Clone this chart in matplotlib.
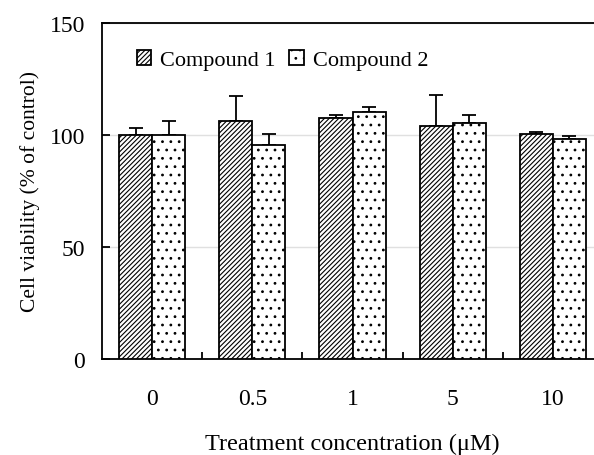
import numpy as np
import matplotlib
matplotlib.use("Agg")
import matplotlib.pyplot as plt

plt.rcParams['font.family'] = ['Liberation Serif', 'DejaVu Serif']
plt.rcParams['hatch.linewidth'] = 0.8

concentracoes = ["0", "0.5", "1", "5", "10"]
composto1 = [100.0, 106.4, 107.4, 103.9, 100.4]
erro1 = [3.1, 11.0, 1.5, 14.1, 0.8]
composto2 = [100.0, 95.7, 110.4, 105.5, 98.1]
erro2 = [6.4, 4.7, 2.0, 3.4, 1.6]

fig = plt.figure(figsize=(5.94, 4.56), dpi=100)
ax = fig.add_axes([102/594, 1 - 360/456, 501/594, 336/456])

x = np.arange(len(concentracoes))
w = 0.33

ax.bar(x - w/2, composto1, w, color="white", edgecolor="black", linewidth=1.3,
       hatch="///////", label="Compound 1", zorder=3)
ax.bar(x + w/2, composto2, w, color="white", edgecolor="black", linewidth=1.3,
       hatch="..", label="Compound 2", zorder=3)

ax.errorbar(x - w/2, composto1, yerr=[np.zeros(5), erro1], fmt="none",
            ecolor="black", elinewidth=1.3, capsize=5, capthick=1.3, zorder=2)
ax.errorbar(x + w/2, composto2, yerr=[np.zeros(5), erro2], fmt="none",
            ecolor="black", elinewidth=1.3, capsize=5, capthick=1.3, zorder=2)

ax.set_xlim(-0.5, 4.5)
ax.set_ylim(0, 150)
ax.set_yticks([0, 50, 100, 150])
ax.set_xticks(x)
ax.set_xticklabels(concentracoes)
ax.set_xticks(np.arange(0.5, 4.5, 1), minor=True)
ax.tick_params(axis="x", which="major", length=0, pad=21, labelsize=17)
ax.tick_params(axis="x", which="minor", direction="in", length=5, width=1.3)
ax.tick_params(axis="y", direction="in", length=6, width=1.3, labelsize=17, pad=12)

for s in ax.spines.values():
    s.set_linewidth(1.3)
ax.spines["right"].set_visible(False)

ax.yaxis.grid(True, color="#e0e0e0", linewidth=1)
ax.set_axisbelow(True)

ax.set_xlabel("Treatment concentration (\u03bcM)", fontsize=17.5, labelpad=17)
ax.set_ylabel("Cell viability (% of control)", fontsize=15.5, labelpad=7)

ax.legend(loc="upper left", bbox_to_anchor=(0.03, 0.98), ncol=2, frameon=False,
          fontsize=16, handlelength=0.65, handleheight=0.65, handletextpad=0.4,
          columnspacing=0.6)

fig.savefig("out.png", dpi=100)
